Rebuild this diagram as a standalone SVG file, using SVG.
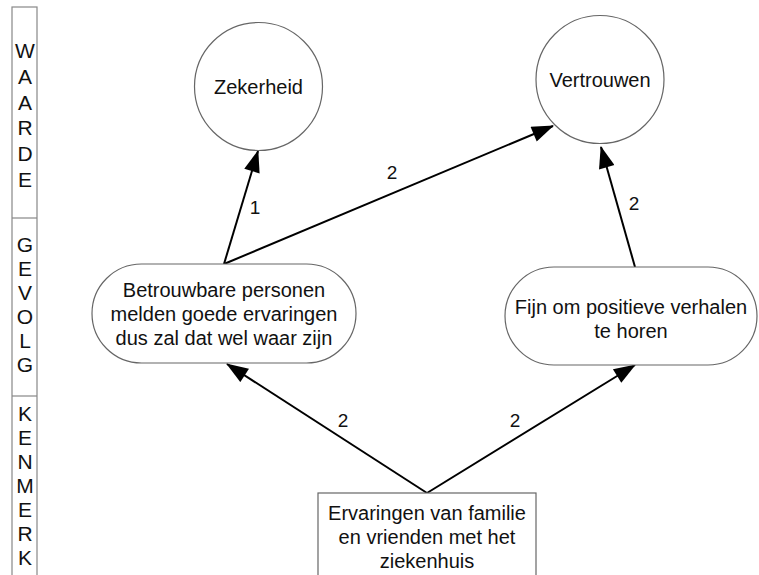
<svg xmlns="http://www.w3.org/2000/svg" width="759" height="575" viewBox="0 0 759 575">
  <defs>
    <marker id="arrow" markerUnits="userSpaceOnUse" markerWidth="24" markerHeight="16" viewBox="0 0 22 16" refX="21" refY="8" orient="auto">
      <path d="M0,0 L22,8 L0,16 Z" fill="#000"/>
    </marker>
    <style>
      text { font-family: "Liberation Sans", Arial, sans-serif; font-size: 20px; fill: #111; text-anchor: middle; }
      .node { fill: #fff; stroke: #666; stroke-width: 1.2; }
      .band { fill: #fff; stroke: #888; stroke-width: 1.2; }
      .edge { stroke: #000; stroke-width: 2; fill: none; marker-end: url(#arrow); }
      .lbl { font-size: 19px; }
      .lvl { font-size: 21px; }
    </style>
  </defs>

  <!-- level bands on the left -->
  <g id="levels">
    <rect class="band" x="12" y="7" width="25" height="575"/>
    <line class="band" x1="12" y1="218" x2="37" y2="218"/>
    <line class="band" x1="12" y1="396" x2="37" y2="396"/>
    <g id="level-waarde" class="lvl">
      <text class="lvl" x="25" y="58">W</text>
      <text class="lvl" x="25" y="84">A</text>
      <text class="lvl" x="25" y="110">A</text>
      <text class="lvl" x="25" y="135">R</text>
      <text class="lvl" x="25" y="161">D</text>
      <text class="lvl" x="25" y="187">E</text>
    </g>
    <g id="level-gevolg">
      <text class="lvl" x="25" y="252">G</text>
      <text class="lvl" x="25" y="276">E</text>
      <text class="lvl" x="25" y="300">V</text>
      <text class="lvl" x="25" y="324">O</text>
      <text class="lvl" x="25" y="348">L</text>
      <text class="lvl" x="25" y="372">G</text>
    </g>
    <g id="level-kenmerk">
      <text class="lvl" x="25" y="421">K</text>
      <text class="lvl" x="25" y="445">E</text>
      <text class="lvl" x="25" y="469">N</text>
      <text class="lvl" x="25" y="493">M</text>
      <text class="lvl" x="25" y="517">E</text>
      <text class="lvl" x="25" y="541">R</text>
      <text class="lvl" x="25" y="565">K</text>
    </g>
  </g>

  <!-- connectors -->
  <g id="connectors">
    <line class="edge" x1="224" y1="264" x2="258" y2="151"/>
    <line class="edge" x1="224" y1="264" x2="553" y2="126"/>
    <line class="edge" x1="635" y1="267" x2="601" y2="147"/>
    <line class="edge" x1="427" y1="493" x2="227" y2="364"/>
    <line class="edge" x1="427" y1="493" x2="635" y2="365"/>
    <text class="lbl" x="255" y="214">1</text>
    <text class="lbl" x="392" y="179">2</text>
    <text class="lbl" x="634" y="210">2</text>
    <text class="lbl" x="343" y="427">2</text>
    <text class="lbl" x="515" y="427">2</text>
  </g>

  <g id="zekerheid">
    <circle class="node" cx="258.5" cy="86.5" r="64"/>
    <text x="258.5" y="94">Zekerheid</text>
  </g>

  <g id="vertrouwen">
    <circle class="node" cx="600" cy="79.5" r="64"/>
    <text x="600" y="87">Vertrouwen</text>
  </g>

  <g id="betrouwbare">
    <rect class="node" x="92" y="264" width="264" height="99" rx="49.5" ry="49.5"/>
    <text x="224" y="297">Betrouwbare personen</text>
    <text x="224" y="321">melden goede ervaringen</text>
    <text x="224" y="345">dus zal dat wel waar zijn</text>
  </g>

  <g id="fijn">
    <rect class="node" x="505" y="267" width="252" height="98" rx="49" ry="49"/>
    <text x="631" y="314">Fijn om positieve verhalen</text>
    <text x="631" y="338">te horen</text>
  </g>

  <g id="ervaringen">
    <rect class="node" x="318" y="493" width="218" height="95"/>
    <text x="427" y="520">Ervaringen van familie</text>
    <text x="427" y="544">en vrienden met het</text>
    <text x="427" y="568">ziekenhuis</text>
  </g>
</svg>
